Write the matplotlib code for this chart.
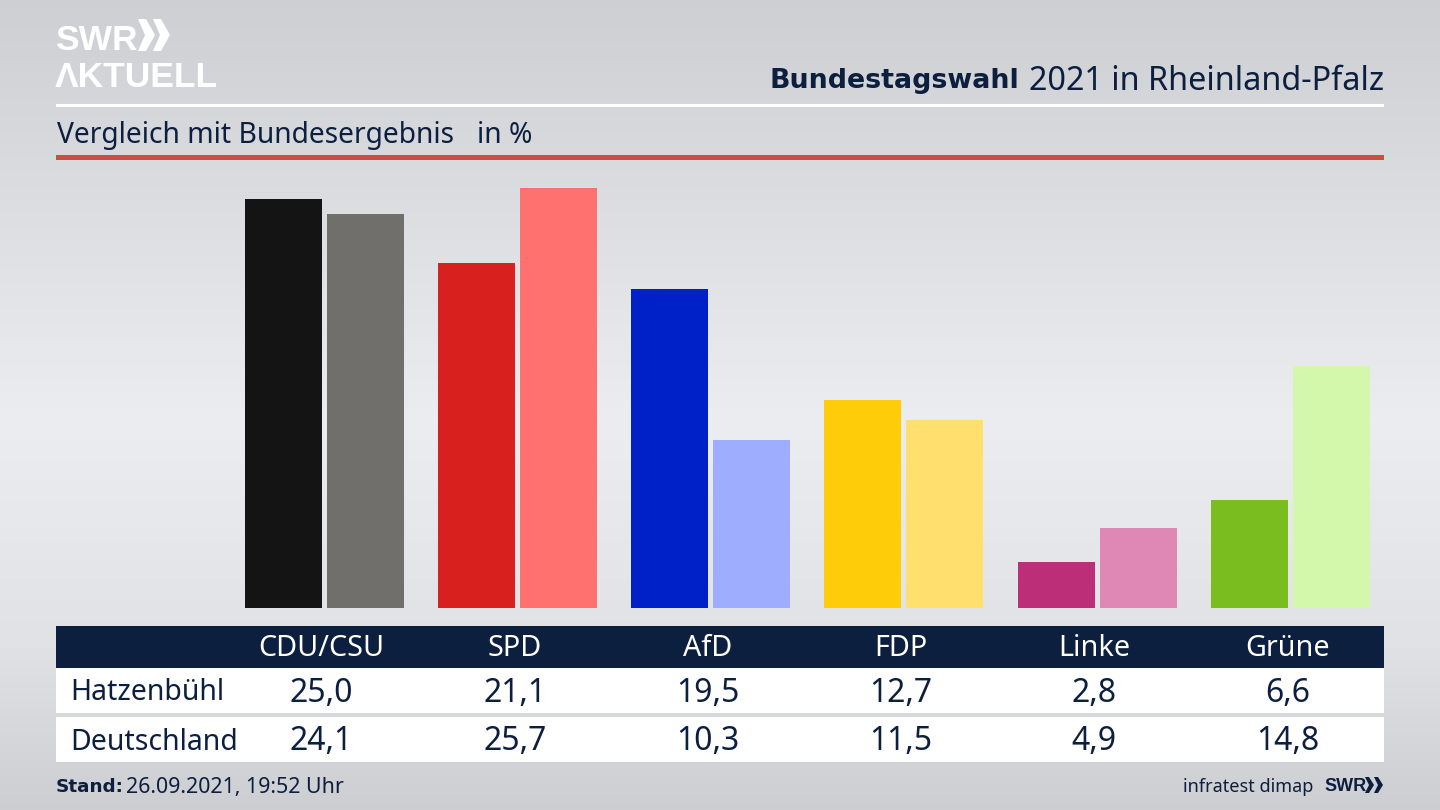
import matplotlib
matplotlib.use('Agg')
import matplotlib.pyplot as plt
import numpy as np
from matplotlib.patches import Polygon, Rectangle

plt.rcParams['font.family'] = ['Noto Sans', 'DejaVu Sans']

parties = ['CDU/CSU', 'SPD', 'AfD', 'FDP', 'Linke', 'Grüne']
hatzenbuehl = [25.0, 21.1, 19.5, 12.7, 2.8, 6.6]
deutschland = [24.1, 25.7, 10.3, 11.5, 4.9, 14.8]
colors_local = ['#141414', '#d8201f', '#0021c8', '#ffcc0a', '#bc2e78', '#79bd1e']
colors_bund = ['#706f6c', '#ff716e', '#9fadff', '#ffdf6e', '#df88b6', '#d3f7ab']

NAVY = '#0c1f3f'
LOGO_FONT = 'Liberation Sans'
W, H = 1440, 810

fig = plt.figure(figsize=(14.4, 8.1), dpi=100)

# Hintergrund und Deko in Pixelkoordinaten
bg = fig.add_axes([0, 0, 1, 1])
bg.set_xlim(0, W)
bg.set_ylim(H, 0)
bg.axis('off')

stops_y = [0, 130, 420, 640, 810]
stops_c = [205, 214, 235, 224, 204]
row = np.interp(np.arange(H), stops_y, stops_c)
grad = np.stack([row, row + 2, row + 6], axis=1)[:, None, :] / 255
bg.imshow(np.clip(grad, 0, 1), extent=(0, W, H, 0), aspect='auto', zorder=0)

# Logo
bg.text(55, 50, 'SWR', color='white', fontsize=25.5, fontweight='bold',
        va='baseline', ha='left', family=LOGO_FONT)
bg.text(55, 87, 'ΛKTUELL', color='white', fontsize=25.5, fontweight='bold',
        va='baseline', ha='left', family=LOGO_FONT)
for x0 in (138, 153):
    bg.add_patch(Polygon([(x0, 19), (x0 + 8, 19), (x0 + 17, 35), (x0 + 8, 51), (x0, 51), (x0 + 7, 35)],
                         color='white', lw=0, zorder=3))

# Kopfzeile
bg.text(1019, 81, 'Bundestagswahl', color=NAVY, fontsize=19.4, fontweight='bold',
        ha='right', va='center', family='DejaVu Sans')
bg.text(1029, 81, '2021 in Rheinland-Pfalz', color=NAVY, fontsize=23.3, ha='left', va='center')
bg.add_patch(Rectangle((56, 104), 1328, 3, color='white', lw=0))
bg.text(57, 143, 'Vergleich mit Bundesergebnis', color=NAVY, fontsize=20.3, ha='left', va='baseline')
bg.text(477, 143, 'in %', color=NAVY, fontsize=20.3, ha='left', va='baseline')
bg.add_patch(Rectangle((56, 155), 1328, 5, color='#c9503c', lw=0))

# Balken
ax_left, ax_right, ax_top, ax_bottom = 56, 1384, 170, 608
ax = fig.add_axes([ax_left / W, 1 - ax_bottom / H, (ax_right - ax_left) / W, (ax_bottom - ax_top) / H])
ax.patch.set_alpha(0)
ax.axis('off')
group_w = 193.2
x = np.arange(len(parties))
ax.set_xlim((ax_left - 324.3) / group_w, (ax_right - 324.3) / group_w)
ax.set_ylim(0, (ax_bottom - ax_top) / 16.35)
bar_w = 77 / group_w
offset = 41 / group_w
ax.bar(x - offset, hatzenbuehl, width=bar_w, color=colors_local)
ax.bar(x + offset, deutschland, width=bar_w, color=colors_bund)

# Tabelle
bg.add_patch(Rectangle((56, 626), 1328, 42, color=NAVY, lw=0, zorder=1))
bg.add_patch(Rectangle((56, 668), 1328, 45, color='white', lw=0, zorder=1))
bg.add_patch(Rectangle((56, 717), 1328, 45, color='white', lw=0, zorder=1))
bg.text(70, 693, 'Hatzenbühl', color=NAVY, fontsize=20.5, ha='left', va='center', zorder=2)
bg.text(70, 742, 'Deutschland', color=NAVY, fontsize=20.5, ha='left', va='center', zorder=2)
for i, party in enumerate(parties):
    cx = 321.5 + group_w * i
    bg.text(cx, 649, party, color='white', fontsize=20.7, ha='center', va='center', zorder=2)
    bg.text(cx, 694, f'{hatzenbuehl[i]:.1f}'.replace('.', ','), color=NAVY, fontsize=23,
            ha='center', va='center', zorder=2)
    bg.text(cx, 742, f'{deutschland[i]:.1f}'.replace('.', ','), color=NAVY, fontsize=23,
            ha='center', va='center', zorder=2)

# Fusszeile
bg.text(56, 787, 'Stand:', color=NAVY, fontsize=13.2, fontweight='bold', ha='left', va='center',
        family='DejaVu Sans')
bg.text(126, 787, '26.09.2021, 19:52 Uhr', color=NAVY, fontsize=15.4, ha='left', va='center')
bg.text(1183, 787, 'infratest dimap', color=NAVY, fontsize=13, ha='left', va='center')
bg.text(1324, 791, 'SWR', color=NAVY, fontsize=13, fontweight='bold', ha='left', va='baseline',
        family=LOGO_FONT)
for x0 in (1365, 1374):
    bg.add_patch(Polygon([(x0, 777), (x0 + 4, 777), (x0 + 9, 785), (x0 + 4, 793), (x0, 793), (x0 + 4, 785)],
                         color=NAVY, lw=0, zorder=3))

fig.savefig('out.png', dpi=100)
